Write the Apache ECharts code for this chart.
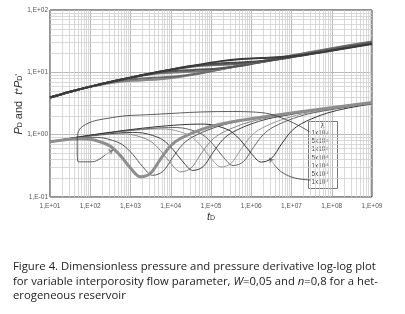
<!DOCTYPE html>
<html>
<head>
<meta charset="utf-8">
<script src="https://cdn.jsdelivr.net/npm/echarts@6/dist/echarts.min.js"></script>
<style>
  html, body { margin: 0; padding: 0; background: #fff; }
  #chart { width: 405px; height: 314px; }
</style>
</head>
<body>
<div id="chart"></div>
<script>
// lambda values (interporosity flow parameter), mantissa and exponent for the labels
const lambdaMant = ['1', '5', '1', '5', '1', '5', '1']
const lambdaExp = ['-4', '-5', '-5', '-6', '-6', '-7', '-7']

// pressure derivative t*P_D' , one pair of arrays per lambda
const dT1 = [10, 56.2, 100, 177.8, 316.2, 562.3, 1000, 1778, 3162, 5623, 10000, 17783, 56234, 177828, 1778279, 1e9]
const dP1 = [0.771, 0.859, 0.842, 0.767, 0.653, 0.461, 0.291, 0.211, 0.242, 0.410, 0.664, 0.875, 1.206, 1.481, 1.901, 3.27]
const dT2 = [10, 112, 200, 356, 632, 1125, 2000, 3556, 6325, 11246, 20000, 35566, 112468, 355656, 3556559, 1e9]
const dP2 = [0.771, 0.907, 0.889, 0.810, 0.690, 0.487, 0.307, 0.223, 0.256, 0.433, 0.701, 0.924, 1.274, 1.564, 2.007, 3.27]
const dT3 = [10, 562, 1000, 1778, 3162, 5623, 10000, 17783, 31623, 56234, 100000, 177828, 562341, 1778279, 17782794, 1e9]
const dP3 = [0.771, 1.029, 1.009, 0.919, 0.782, 0.552, 0.349, 0.253, 0.290, 0.491, 0.795, 1.048, 1.445, 1.774, 2.277, 3.27]
const dT4 = [10, 1125, 2000, 3556, 6325, 11246, 20000, 35566, 63246, 112468, 200000, 355656, 1124683, 3556559, 35565588, 1e9]
const dP4 = [0.771, 1.087, 1.065, 0.970, 0.826, 0.583, 0.368, 0.267, 0.306, 0.519, 0.840, 1.107, 1.526, 1.873, 2.405, 3.27]
const dT5 = [10, 5623, 10000, 17783, 31623, 56234, 1e5, 177828, 316228, 562341, 1e6, 1778279, 5623413, 17782794, 177827941, 1e9]
const dP5 = [0.771, 1.234, 1.209, 1.101, 0.938, 0.662, 0.418, 0.303, 0.348, 0.589, 0.954, 1.257, 1.732, 2.127, 2.730, 3.27]
const dT6 = [10, 11246, 20000, 35566, 63246, 112468, 2e5, 355656, 632456, 1124683, 2e6, 3556559, 11246826, 35565588, 355655882, 1e9]
const dP6 = [0.771, 1.302, 1.276, 1.163, 0.990, 0.699, 0.441, 0.320, 0.367, 0.622, 1.007, 1.327, 1.828, 2.245, 2.882, 3.27]
const dT7 = [10, 56234, 1e5, 177828, 316228, 562341, 1e6, 1778279, 3162278, 5623413, 1e7, 17782794, 56234133, 177827941, 1e9]
const dP7 = [0.771, 1.477, 1.448, 1.319, 1.123, 0.793, 0.501, 0.363, 0.416, 0.705, 1.142, 1.505, 2.074, 2.547, 3.12]

// dimensionless pressure P_D, one pair of arrays per lambda
const pT1 = [10, 31.6, 100, 177.8, 562.3, 1778, 5623, 17783, 56234, 177828, 1778279, 1e7, 1e8, 1e9]
const pP1 = [3.95, 4.88, 5.87, 6.33, 7.06, 7.42, 7.75, 8.50, 9.70, 11.25, 15.13, 18.65, 24.36, 31.26]
const pT2 = [10, 31.6, 100, 354.8, 1122, 3548, 11220, 35481, 112202, 354813, 3548134, 3.16e7, 3.16e8, 1e9]
const pP2 = [3.95, 4.88, 5.90, 7.01, 7.79, 8.17, 8.51, 9.30, 10.57, 12.19, 16.31, 21.08, 27.38, 30.99]
const pT3 = [10, 31.6, 100, 316.2, 1000, 1778, 5623, 17783, 56234, 177828, 562341, 1778279, 17782794, 177827941, 1e9]
const pP3 = [3.95, 4.88, 5.90, 7.01, 8.20, 8.75, 9.63, 10.06, 10.45, 11.35, 12.77, 14.63, 19.29, 25.08, 30.34]
const pT4 = [10, 31.6, 100, 316.2, 1000, 3548, 11220, 35481, 112202, 354813, 1122018, 3548134, 35481339, 316227766, 1e9]
const pP4 = [3.95, 4.88, 5.90, 7.01, 8.23, 9.57, 10.50, 10.95, 11.36, 12.30, 13.82, 15.79, 20.70, 26.45, 30.03]
const pT5 = [10, 31.6, 100, 316.2, 1000, 3162, 10000, 17783, 56234, 177828, 562341, 1778279, 5623413, 17782794, 177827941, 1e9]
const pP5 = [3.95, 4.88, 5.90, 7.01, 8.23, 9.57, 11.03, 11.65, 12.71, 13.22, 13.67, 14.75, 16.48, 18.70, 24.31, 29.40]
const pT6 = [10, 31.6, 100, 316.2, 1000, 3162, 10000, 35481, 112202, 354813, 1122018, 3548134, 11220185, 35481339, 354813389, 1e9]
const pP6 = [3.95, 4.88, 5.90, 7.01, 8.23, 9.57, 11.03, 12.63, 13.74, 14.28, 14.76, 15.92, 17.73, 20.07, 25.96, 29.11]
const pT7 = [10, 31.6, 100, 316.2, 1000, 3162, 10000, 31623, 177828, 562341, 1778279, 5623413, 17782794, 56234133, 177827941, 1e9]
const pP7 = [3.95, 4.88, 5.90, 7.01, 8.23, 9.57, 11.03, 12.63, 15.13, 16.37, 17.00, 17.56, 18.84, 20.91, 23.60, 28.46]

// callout lines from the lambda box to the curves (data coordinates)
const callA_T = [2.82e7, 1.78e6, 2.66e5, 3162, 355, 63, 47.3, 50.1, 112, 237]
const callA_P = [1.117, 2.26, 2.35, 2.10, 1.88, 1.345, 0.743, 0.367, 0.367, 0.476]
const arrowA = [[237, 0.476], [376, 0.573]]
const callB_T = [2.99e7, 1.19e7, 5.62e6, 3.76e6]
const callB_P = [0.188, 0.202, 0.253, 0.328]
const arrowB = [[3.76e6, 0.328], [2.82e6, 0.426]]

const derivT = [dT1, dT2, dT3, dT4, dT5, dT6, dT7]
const derivP = [dP1, dP2, dP3, dP4, dP5, dP6, dP7]
const presT = [pT1, pT2, pT3, pT4, pT5, pT6, pT7]
const presP = [pP1, pP2, pP3, pP4, pP5, pP6, pP7]

const derivColor = ['#8e8e8e', '#555', '#888', '#444', '#9a9a9a', '#666', '#333']
const derivWidth = [3, 1, 1, 1, 1, 1, 1]
const presColor = ['#8a8a8a', '#6a6a6a', '#7a7a7a', '#555', '#666', '#4a4a4a', '#3a3a3a']

function pairs(t, p) {
  return t.map((v, i) => [v, p[i]])
}
function sci(v) {
  let e = Math.round(Math.log10(v))
  return '1,E' + (e < 0 ? '-' : '+') + String(Math.abs(e)).padStart(2, '0')
}

// minor log grid lines 2..9 in every decade
let minorLines = []
for (let e = 1; e <= 8; e++) {
  for (let k = 2; k <= 9; k++) minorLines.push({ xAxis: k * Math.pow(10, e) })
}
for (let e = -1; e <= 1; e++) {
  for (let k = 2; k <= 9; k++) minorLines.push({ yAxis: k * Math.pow(10, e) })
}

let series = [{
  type: 'line',
  data: [[10, 1]],
  symbol: 'none',
  lineStyle: { width: 0 },
  silent: true,
  z: 1,
  markLine: {
    silent: true,
    z: 1,
    symbol: ['none', 'none'],
    label: { show: false },
    lineStyle: { color: '#cfcfcf', width: 0.8, type: 'solid' },
    emphasis: { disabled: true },
    data: minorLines
  }
}]

for (let i = 0; i < 7; i++) {
  series.push({
    type: 'line',
    data: pairs(presT[i], presP[i]),
    smooth: 0.35,
    symbol: 'none',
    lineStyle: { color: presColor[i], width: 2 },
    z: 3
  })
}
for (let i = 0; i < 7; i++) {
  series.push({
    type: 'line',
    data: pairs(derivT[i], derivP[i]),
    smooth: 0.35,
    symbol: 'none',
    lineStyle: { color: derivColor[i], width: derivWidth[i] },
    z: i == 0 ? 4 : 3
  })
}
// callouts
series.push({
  type: 'line',
  data: pairs(callA_T, callA_P),
  smooth: 0.4,
  symbol: 'none',
  lineStyle: { color: '#333', width: 0.8 },
  z: 5
})
series.push({
  type: 'line',
  data: pairs(callB_T, callB_P),
  smooth: 0.4,
  symbol: 'none',
  lineStyle: { color: '#333', width: 0.8 },
  z: 5
})
series.push({
  type: 'lines',
  coordinateSystem: 'cartesian2d',
  symbol: ['none', 'arrow'],
  symbolSize: 5,
  lineStyle: { color: '#333', width: 0.8, curveness: 0 },
  z: 5,
  data: [{ coords: arrowA }, { coords: arrowB }]
})

let legendRows = lambdaMant.map((m, i) => ({
  type: 'text',
  left: 3,
  top: 9 + i * 8.1,
  style: {
    text: m + 'x10{s|' + lambdaExp[i] + '}',
    fontSize: 6.3,
    fontFamily: 'Liberation Sans',
    fill: '#444',
    rich: { s: { fontSize: 4.2, verticalAlign: 'top', fill: '#444', fontFamily: 'Liberation Sans' } }
  }
}))

let option = {
  animation: false,
  backgroundColor: '#fff',
  grid: {
    left: 50, right: 33, top: 10, bottom: 117,
    show: true, borderColor: '#222', borderWidth: 1, backgroundColor: 'transparent'
  },
  xAxis: {
    type: 'log',
    logBase: 10,
    min: 10,
    max: 1e9,
    splitNumber: 10,
    axisLine: { show: false },
    axisTick: { show: false },
    splitLine: { show: true, lineStyle: { color: '#a8a8a8', width: 0.8 } },
    axisLabel: {
      formatter: sci, fontSize: 6.5, color: '#555', fontFamily: 'Liberation Sans', margin: 6, interval: 0
    }
  },
  yAxis: {
    type: 'log',
    logBase: 10,
    min: 0.1,
    max: 100,
    splitNumber: 3,
    axisLine: { show: false },
    axisTick: { show: false },
    splitLine: { show: true, lineStyle: { color: '#a8a8a8', width: 0.8 } },
    axisLabel: {
      formatter: sci, fontSize: 6.5, color: '#555', fontFamily: 'Liberation Sans', margin: 2
    }
  },
  graphic: [
    {
      type: 'text',
      left: 13,
      top: 74,
      rotation: Math.PI / 2,
      originX: 0, originY: 0,
      style: {
        text: '{i|P}{s|D} and  {i|t}{n|*}{i|P}{s|D}{n|\'}',
        fill: '#333',
        fontSize: 11,
        fontFamily: 'Liberation Sans',
        rich: {
          i: { fontStyle: 'italic', fontSize: 11, fontFamily: 'Liberation Sans', fill: '#333' },
          s: { fontSize: 7, fontFamily: 'Liberation Sans', fill: '#333', verticalAlign: 'bottom' },
          n: { fontSize: 9, fontFamily: 'Liberation Sans', fill: '#333' }
        }
      }
    },
    {
      type: 'text',
      left: 207,
      top: 211,
      style: {
        text: '{i|t}{s|D}',
        fill: '#333',
        rich: {
          i: { fontStyle: 'italic', fontSize: 11, fontFamily: 'Liberation Sans', fill: '#333' },
          s: { fontSize: 7, fontFamily: 'Liberation Sans', fill: '#333', verticalAlign: 'bottom' }
        }
      }
    },
    {
      type: 'group',
      left: 308,
      top: 121,
      z: 10,
      children: [
        {
          type: 'rect',
          shape: { x: 0, y: 0, width: 29, height: 67 },
          style: { fill: '#fff', stroke: '#777', lineWidth: 1 }
        },
        {
          type: 'text',
          left: 12,
          top: 1,
          style: { text: 'λ', fontSize: 7, fontFamily: 'DejaVu Sans', fill: '#444' }
        }
      ].concat(legendRows)
    },
    {
      type: 'text',
      left: 13,
      top: 260,
      style: {
        text: 'Figure 4. Dimensionless pressure and pressure derivative log-log plot\n' +
          'for variable interporosity flow parameter, {i|W}=0,05 and {i|n}=0,8 for a het-\n' +
          'erogeneous reservoir',
        fontSize: 11.3,
        fontFamily: 'Open Sans',
        fill: '#222',
        lineHeight: 14.5,
        rich: {
          i: { fontStyle: 'italic', fontSize: 11.3, fontFamily: 'Open Sans', fill: '#222', lineHeight: 14.5 }
        }
      }
    }
  ],
  series: series
}

const chart = echarts.init(document.getElementById('chart'))
chart.setOption(option)
</script>
</body>
</html>
